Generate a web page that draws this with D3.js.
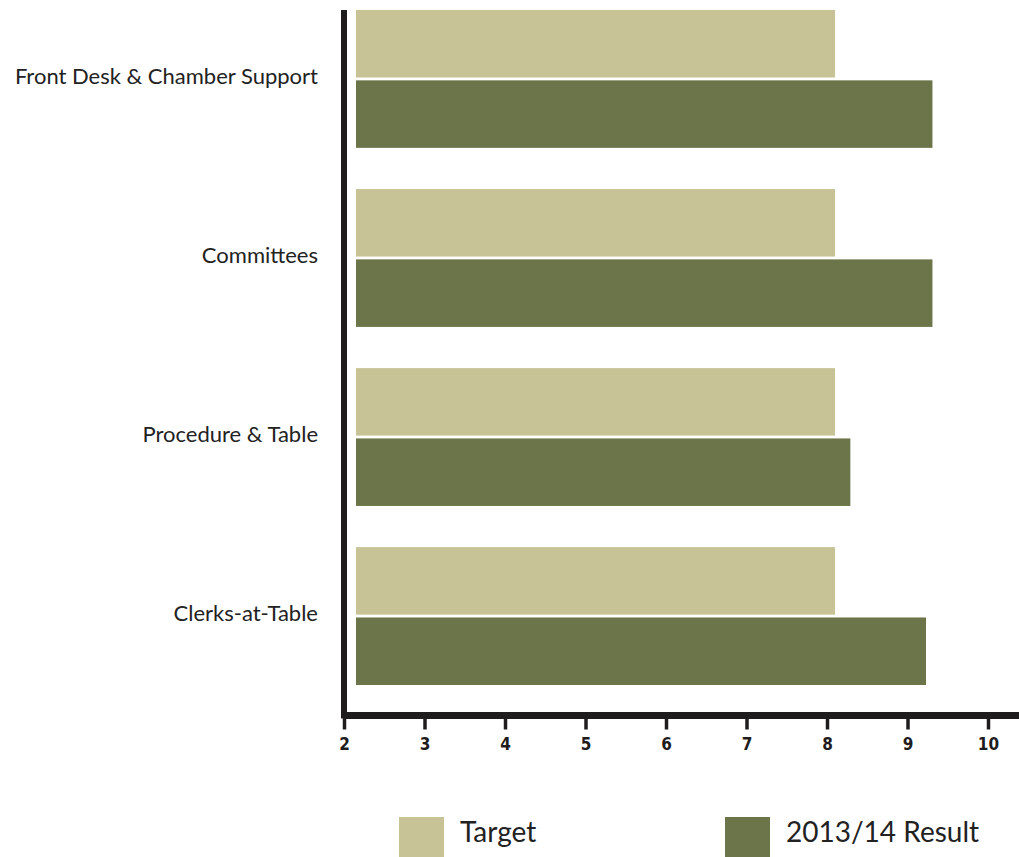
<!DOCTYPE html>
<html>
<head>
<meta charset="utf-8">
<script src="https://cdn.jsdelivr.net/npm/d3@7"></script>
<style>
  body { margin: 0; background: #fff; }
  svg { display: block; }
</style>
</head>
<body>
<div id="chart"></div>
<script>
// data
const categories = ["Front Desk & Chamber Support", "Committees", "Procedure & Table", "Clerks-at-Table"];
const targetValues = [8.1, 8.1, 8.1, 8.1];
const resultValues = [9.31, 9.31, 8.29, 9.23];
const seriesNames = ["Target", "2013/14 Result"];
const tickValues = [2, 3, 4, 5, 6, 7, 8, 9, 10];

const colors = ["#c8c396", "#6c7449"];

function drawChart() {
  const W = 1019, H = 857;

  const svg = d3.select("#chart")
    .append("svg")
    .attr("width", W)
    .attr("height", H);

  // scales
  const x = d3.scaleLinear()
    .domain([2, 10])
    .range([344, 988]);

  const y = d3.scaleBand()
    .domain(categories)
    .range([10, 685])
    .paddingInner(0.23)
    .paddingOuter(0);

  const yInner = d3.scaleBand()
    .domain(seriesNames)
    .range([0, y.bandwidth()])
    .paddingInner(0.04);

  const barStart = x(2) + 12; // bars sit a little off the axis line

  const rows = categories.map((c, i) => ({
    cat: c,
    vals: [targetValues[i], resultValues[i]]
  }));

  // bars
  const groups = svg.selectAll("g.row")
    .data(rows)
    .enter()
    .append("g")
    .attr("class", "row")
    .attr("transform", d => "translate(0," + y(d.cat) + ")");

  groups.selectAll("rect")
    .data(d => d.vals.map((v, j) => ({ name: seriesNames[j], v: v, j: j })))
    .enter()
    .append("rect")
    .attr("x", barStart)
    .attr("y", d => yInner(d.name))
    .attr("width", d => x(d.v) - barStart)
    .attr("height", yInner.bandwidth())
    .attr("fill", d => colors[d.j]);

  // category labels
  svg.selectAll("text.cat")
    .data(categories)
    .enter()
    .append("text")
    .attr("class", "cat")
    .attr("x", 318)
    .attr("y", d => y(d) + y.bandwidth() / 2 - 1)
    .attr("text-anchor", "end")
    .attr("dominant-baseline", "middle")
    .style("font-family", "Lato, 'Open Sans', sans-serif")
    .style("font-size", "22px")
    .style("fill", "#222")
    .text(d => d);

  // axis lines (thick black)
  const axisY = 715.5;
  svg.append("line")
    .attr("x1", x(2) - 1).attr("x2", W)
    .attr("y1", axisY).attr("y2", axisY)
    .attr("stroke", "#1f1c1d")
    .attr("stroke-width", 7);

  svg.append("line")
    .attr("x1", x(2)).attr("x2", x(2))
    .attr("y1", 10).attr("y2", axisY + 3)
    .attr("stroke", "#1f1c1d")
    .attr("stroke-width", 6);

  const xAxis = d3.axisBottom(x)
    .tickValues(tickValues)
    .tickSize(11)
    .tickPadding(8)
    .tickFormat(d3.format("d"));

  const gx = svg.append("g")
    .attr("id", "x-axis")
    .attr("transform", "translate(0," + (axisY + 3) + ")")
    .call(xAxis);

  gx.select(".domain").remove();
  gx.selectAll(".tick line")
    .attr("stroke", "#1f1c1d")
    .attr("stroke-width", 3.5);
  gx.selectAll(".tick text")
    .style("font-family", "'DejaVu Sans Condensed', 'DejaVu Sans', sans-serif")
    .style("font-weight", "bold")
    .style("font-size", "17px")
    .style("fill", "#1f1c1d");

  // legend
  const legend = svg.append("g").attr("id", "legend");
  const legendX = [399, 725];
  seriesNames.forEach((name, i) => {
    legend.append("rect")
      .attr("x", legendX[i])
      .attr("y", 817)
      .attr("width", 45)
      .attr("height", 40)
      .attr("fill", colors[i]);
    legend.append("text")
      .attr("x", legendX[i] + 61)
      .attr("y", 835)
      .attr("dominant-baseline", "middle")
      .style("font-family", "Lato, 'Open Sans', sans-serif")
      .style("font-size", "28px")
      .style("fill", "#222")
      .text(name);
  });
}

window.onload = function() {
  drawChart();
};
</script>
</body>
</html>
